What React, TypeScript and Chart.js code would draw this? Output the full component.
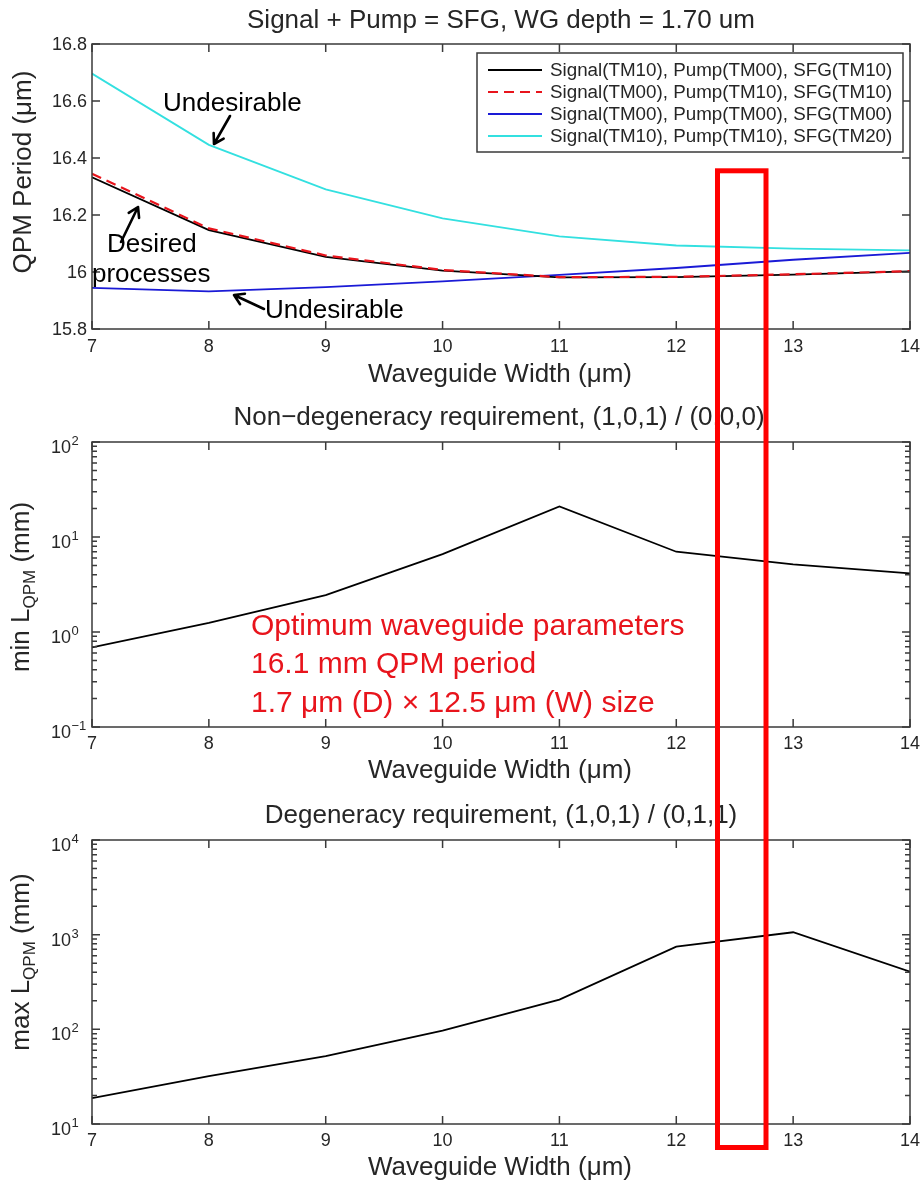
import React, { useEffect, useRef } from "react";
import { Chart, registerables } from "chart.js";

Chart.register(...registerables);

// ---------- data ----------
const widths = [7, 8, 9, 10, 11, 12, 13, 14];
const qpmSig10Pump00 = [16.332, 16.147, 16.053, 16.005, 15.981, 15.982, 15.991, 16.002];
const qpmSig00Pump10 = [16.345, 16.153, 16.058, 16.007, 15.982, 15.983, 15.992, 16.003];
const qpmSig00Pump00 = [15.944, 15.932, 15.947, 15.967, 15.99, 16.014, 16.043, 16.067];
const qpmSig10Pump10 = [16.696, 16.446, 16.29, 16.188, 16.125, 16.093, 16.082, 16.076];
const minLqpm = [0.69, 1.25, 2.45, 6.6, 21.0, 7.0, 5.15, 4.15];
const maxLqpm = [18.8, 32, 52, 97, 206, 747, 1060, 407];

const xTicks = [7, 8, 9, 10, 11, 12, 13, 14];
const qpmTicks = [15.8, 16, 16.2, 16.4, 16.6, 16.8];
const qpmTickLabels = ["15.8", "16", "16.2", "16.4", "16.6", "16.8"];
const minDecades = [-1, 0, 1, 2];
const maxDecades = [1, 2, 3, 4];

const legendLabels = [
  "Signal(TM10), Pump(TM00), SFG(TM10)",
  "Signal(TM00), Pump(TM10), SFG(TM10)",
  "Signal(TM00), Pump(TM00), SFG(TM00)",
  "Signal(TM10), Pump(TM10), SFG(TM20)",
];
const seriesColors = ["#000000", "#e8141c", "#1a1ad6", "#33e0e0"];
const seriesDash = [[], [10, 6], [], []];

const title1 = "Signal + Pump = SFG, WG depth = 1.70 um";
const title2 = "Non\u2212degeneracy requirement, (1,0,1) / (0,0,0)";
const title3 = "Degeneracy requirement, (1,0,1) / (0,1,1)";
const xLabel = "Waveguide Width (\u03bcm)";
const optimumLines = [
  "Optimum waveguide parameters",
  "16.1 mm QPM period",
  "1.7 \u03bcm (D) \u00d7 12.5 \u03bcm (W) size",
];

// ---------- styling helpers ----------
const FONT = '"Liberation Sans", Arial, Helvetica, sans-serif';
const TXT = "#262626";
const FRAME = "#3a3a3a";

const pts = (ys: number[]) => widths.map((x, i) => ({ x, y: ys[i] }));

function drawRedBox(ctx: CanvasRenderingContext2D, top: number) {
  ctx.save();
  ctx.translate(0, -top);
  ctx.strokeStyle = "#ff0000";
  ctx.lineWidth = 5;
  ctx.strokeRect(717.5, 170.8, 48.5, 976.7);
  ctx.restore();
}

function drawFrame(chart: any, yMajor: number[], yMinor: number[]) {
  const { ctx, chartArea: a, scales } = chart;
  const xs = scales.x;
  const ys = scales.y;
  ctx.save();
  ctx.strokeStyle = FRAME;
  ctx.lineWidth = 1.5;
  ctx.strokeRect(a.left, a.top, a.right - a.left, a.bottom - a.top);
  ctx.beginPath();
  for (const v of xTicks) {
    const px = xs.getPixelForValue(v);
    ctx.moveTo(px, a.bottom);
    ctx.lineTo(px, a.bottom - 8);
    ctx.moveTo(px, a.top);
    ctx.lineTo(px, a.top + 8);
  }
  for (const v of yMajor) {
    const py = ys.getPixelForValue(v);
    ctx.moveTo(a.left, py);
    ctx.lineTo(a.left + 8, py);
    ctx.moveTo(a.right, py);
    ctx.lineTo(a.right - 8, py);
  }
  for (const v of yMinor) {
    const py = ys.getPixelForValue(v);
    ctx.moveTo(a.left, py);
    ctx.lineTo(a.left + 5, py);
    ctx.moveTo(a.right, py);
    ctx.lineTo(a.right - 5, py);
  }
  ctx.stroke();
  ctx.restore();
}

function drawXTickLabels(chart: any, y: number) {
  const { ctx, scales } = chart;
  ctx.save();
  ctx.fillStyle = TXT;
  ctx.font = `18px ${FONT}`;
  ctx.textAlign = "center";
  ctx.textBaseline = "middle";
  for (const v of xTicks) {
    ctx.fillText(String(v), scales.x.getPixelForValue(v), y);
  }
  ctx.restore();
}

function drawLogLabels(chart: any, decades: number[]) {
  const { ctx, scales } = chart;
  ctx.save();
  ctx.fillStyle = TXT;
  ctx.textBaseline = "alphabetic";
  for (const d of decades) {
    const py = scales.y.getPixelForValue(Math.pow(10, d));
    ctx.font = `18px ${FONT}`;
    ctx.textAlign = "right";
    ctx.fillText("10", 71, py + 11);
    ctx.font = `13px ${FONT}`;
    ctx.textAlign = "left";
    ctx.fillText(d < 0 ? "\u2212" + String(-d) : String(d), 71.5, py + 3);
  }
  ctx.restore();
}

function minorTicks(decades: number[]) {
  const out: number[] = [];
  for (let i = 0; i < decades.length - 1; i++) {
    for (let m = 2; m <= 9; m++) out.push(m * Math.pow(10, decades[i]));
  }
  return out;
}

function drawCentered(ctx: CanvasRenderingContext2D, text: string, x: number, y: number, size: number, color = TXT) {
  ctx.save();
  ctx.fillStyle = color;
  ctx.font = `${size}px ${FONT}`;
  ctx.textAlign = "center";
  ctx.textBaseline = "alphabetic";
  ctx.fillText(text, x, y);
  ctx.restore();
}

function drawLeft(ctx: CanvasRenderingContext2D, text: string, x: number, y: number, size: number, color = TXT) {
  ctx.save();
  ctx.fillStyle = color;
  ctx.font = `${size}px ${FONT}`;
  ctx.textAlign = "left";
  ctx.textBaseline = "alphabetic";
  ctx.fillText(text, x, y);
  ctx.restore();
}

function drawYLabel(ctx: CanvasRenderingContext2D, bx: number, cy: number, parts: { t: string; size: number; dy: number }[]) {
  ctx.save();
  ctx.translate(bx, cy);
  ctx.rotate(-Math.PI / 2);
  ctx.fillStyle = TXT;
  let total = 0;
  for (const p of parts) {
    ctx.font = `${p.size}px ${FONT}`;
    total += ctx.measureText(p.t).width;
  }
  let x = -total / 2;
  ctx.textAlign = "left";
  ctx.textBaseline = "alphabetic";
  for (const p of parts) {
    ctx.font = `${p.size}px ${FONT}`;
    ctx.fillText(p.t, x, p.dy);
    x += ctx.measureText(p.t).width;
  }
  ctx.restore();
}

function arrow(ctx: CanvasRenderingContext2D, x1: number, y1: number, x2: number, y2: number) {
  ctx.save();
  ctx.strokeStyle = "#000";
  ctx.lineWidth = 2.6;
  ctx.lineCap = "round";
  ctx.lineJoin = "round";
  const a = Math.atan2(y2 - y1, x2 - x1);
  const L = 11;
  ctx.beginPath();
  ctx.moveTo(x1, y1);
  ctx.lineTo(x2, y2);
  ctx.moveTo(x2 - L * Math.cos(a - 0.55), y2 - L * Math.sin(a - 0.55));
  ctx.lineTo(x2, y2);
  ctx.lineTo(x2 - L * Math.cos(a + 0.55), y2 - L * Math.sin(a + 0.55));
  ctx.stroke();
  ctx.restore();
}

function baseOptions(padding: any, yScale: any) {
  return {
    responsive: false,
    animation: false as const,
    devicePixelRatio: 1,
    layout: { padding },
    plugins: { legend: { display: false }, tooltip: { enabled: false }, title: { display: false } },
    events: [] as any[],
    elements: { point: { radius: 0 }, line: { tension: 0 } },
    scales: {
      x: { type: "linear" as const, min: 7, max: 14, display: false },
      y: yScale,
    },
  };
}

// ---------- chart configs ----------
const TOP1 = 0;
const TOP2 = 392;
const TOP3 = 792;

function config1(): any {
  const order = [1, 0, 2, 3];
  const series = [qpmSig10Pump00, qpmSig00Pump10, qpmSig00Pump00, qpmSig10Pump10];
  return {
    type: "line",
    data: {
      datasets: series.map((s, i) => ({
        label: legendLabels[i],
        data: pts(s),
        borderColor: seriesColors[i],
        borderDash: seriesDash[i],
        borderWidth: i === 1 ? 2.2 : 1.8,
        order: order[i],
        fill: false,
      })),
    },
    options: baseOptions(
      { left: 92, right: 13, top: 44, bottom: 63 },
      { type: "linear", min: 15.8, max: 16.8, display: false }
    ),
    plugins: [
      {
        id: "matlab1",
        afterDraw(chart: any) {
          const ctx: CanvasRenderingContext2D = chart.ctx;
          drawFrame(chart, qpmTicks, []);
          drawXTickLabels(chart, 347 - TOP1);
          ctx.save();
          ctx.fillStyle = TXT;
          ctx.font = `18px ${FONT}`;
          ctx.textAlign = "right";
          ctx.textBaseline = "middle";
          qpmTicks.forEach((v, i) => ctx.fillText(qpmTickLabels[i], 87, chart.scales.y.getPixelForValue(v) + 1));
          ctx.restore();
          drawCentered(ctx, title1, 501, 28, 26);
          drawCentered(ctx, xLabel, 500, 382, 26);
          drawYLabel(ctx, 31, 172, [{ t: "QPM Period (\u03bcm)", size: 26, dy: 0 }]);

          // legend
          ctx.save();
          ctx.fillStyle = "#fff";
          ctx.fillRect(477, 53, 426, 99);
          ctx.strokeStyle = FRAME;
          ctx.lineWidth = 1.5;
          ctx.strokeRect(477, 53, 426, 99);
          const rows = [70, 92, 114, 136];
          legendLabels.forEach((lab, i) => {
            ctx.beginPath();
            ctx.strokeStyle = seriesColors[i];
            ctx.lineWidth = 2;
            ctx.setLineDash(seriesDash[i]);
            ctx.moveTo(488, rows[i]);
            ctx.lineTo(542, rows[i]);
            ctx.stroke();
            ctx.setLineDash([]);
            ctx.fillStyle = TXT;
            ctx.font = `18.8px ${FONT}`;
            ctx.textAlign = "left";
            ctx.textBaseline = "middle";
            ctx.fillText(lab, 550, rows[i] + 1);
          });
          ctx.restore();

          // annotations
          drawLeft(ctx, "Undesirable", 163, 111, 26, "#000");
          arrow(ctx, 230, 116, 214, 144);
          drawLeft(ctx, "Desired", 107, 252, 26, "#000");
          drawLeft(ctx, "processes", 92, 282, 26, "#000");
          arrow(ctx, 121, 242, 138, 207);
          drawLeft(ctx, "Undesirable", 265, 318, 26, "#000");
          arrow(ctx, 264, 309, 234, 295);

          drawRedBox(ctx, TOP1);
        },
      },
    ],
  };
}

function config2(): any {
  return {
    type: "line",
    data: {
      datasets: [
        { label: "min LQPM", data: pts(minLqpm), borderColor: "#000", borderWidth: 1.8, fill: false },
      ],
    },
    options: baseOptions(
      { left: 92, right: 13, top: 442 - TOP2, bottom: TOP3 - 727 },
      { type: "logarithmic", min: 0.1, max: 100, display: false }
    ),
    plugins: [
      {
        id: "matlab2",
        afterDraw(chart: any) {
          const ctx: CanvasRenderingContext2D = chart.ctx;
          drawFrame(chart, minDecades.map((d) => Math.pow(10, d)), minorTicks(minDecades));
          drawXTickLabels(chart, 744 - TOP2);
          drawLogLabels(chart, minDecades);
          drawCentered(ctx, title2, 499, 425 - TOP2, 26);
          drawCentered(ctx, xLabel, 500, 778 - TOP2, 26);
          drawYLabel(ctx, 29, 587 - TOP2, [
            { t: "min L", size: 26, dy: 0 },
            { t: "QPM", size: 17, dy: 6 },
            { t: " (mm)", size: 26, dy: 0 },
          ]);
          const bases = [635, 673, 712];
          optimumLines.forEach((l, i) => drawLeft(ctx, l, 251, bases[i] - TOP2, 30, "#e8141c"));
          drawRedBox(ctx, TOP2);
        },
      },
    ],
  };
}

function config3(): any {
  return {
    type: "line",
    data: {
      datasets: [
        { label: "max LQPM", data: pts(maxLqpm), borderColor: "#000", borderWidth: 1.8, fill: false },
      ],
    },
    options: baseOptions(
      { left: 92, right: 13, top: 840 - TOP3, bottom: 1184 - 1124 },
      { type: "logarithmic", min: 10, max: 10000, display: false }
    ),
    plugins: [
      {
        id: "matlab3",
        afterDraw(chart: any) {
          const ctx: CanvasRenderingContext2D = chart.ctx;
          drawFrame(chart, maxDecades.map((d) => Math.pow(10, d)), minorTicks(maxDecades));
          drawXTickLabels(chart, 1141 - TOP3);
          drawLogLabels(chart, maxDecades);
          drawCentered(ctx, title3, 501, 823 - TOP3, 26);
          drawCentered(ctx, xLabel, 500, 1175 - TOP3, 26);
          drawYLabel(ctx, 29, 962 - TOP3, [
            { t: "max L", size: 26, dy: 0 },
            { t: "QPM", size: 17, dy: 6 },
            { t: " (mm)", size: 26, dy: 0 },
          ]);
          drawRedBox(ctx, TOP3);
        },
      },
    ],
  };
}

export default function App() {
  const r1 = useRef<HTMLCanvasElement>(null);
  const r2 = useRef<HTMLCanvasElement>(null);
  const r3 = useRef<HTMLCanvasElement>(null);

  useEffect(() => {
    const charts = [
      new Chart(r1.current as HTMLCanvasElement, config1()),
      new Chart(r2.current as HTMLCanvasElement, config2()),
      new Chart(r3.current as HTMLCanvasElement, config3()),
    ];
    return () => charts.forEach((c) => c.destroy());
  }, []);

  const cs = (top: number, h: number): React.CSSProperties => ({
    position: "absolute",
    left: 0,
    top,
    width: 923,
    height: h,
    display: "block",
  });

  return (
    <div style={{ position: "absolute", left: 0, top: 0, width: 923, height: 1184, background: "#fff", overflow: "hidden" }}>
      <canvas ref={r1} width={923} height={TOP2 - TOP1} style={cs(TOP1, TOP2 - TOP1)} />
      <canvas ref={r2} width={923} height={TOP3 - TOP2} style={cs(TOP2, TOP3 - TOP2)} />
      <canvas ref={r3} width={923} height={1184 - TOP3} style={cs(TOP3, 1184 - TOP3)} />
    </div>
  );
}
